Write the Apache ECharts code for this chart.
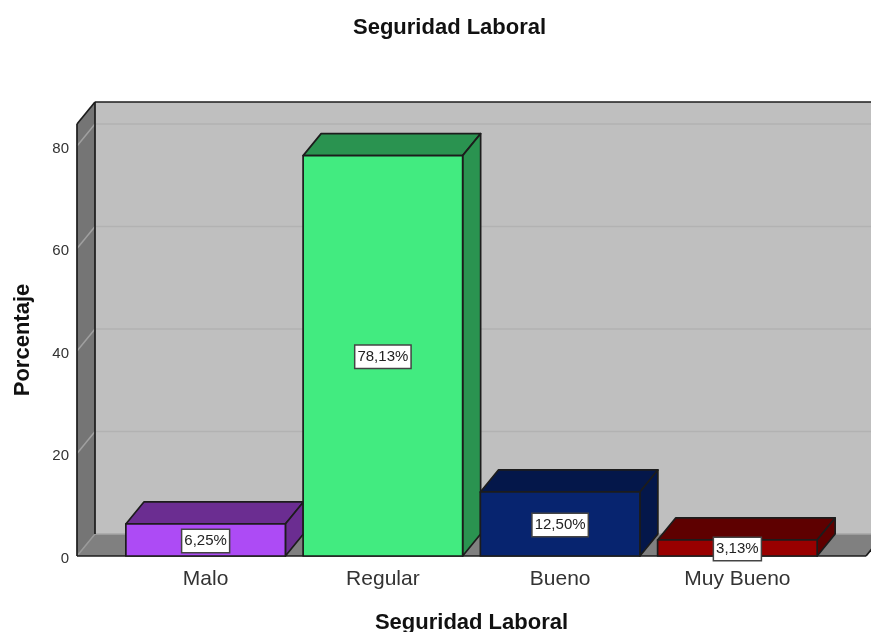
<!DOCTYPE html>
<html>
<head>
<meta charset="utf-8">
<title>Seguridad Laboral</title>
<script src="https://cdn.jsdelivr.net/npm/echarts@6/dist/echarts.min.js"></script>
<style>
  html, body { margin: 0; padding: 0; background: #fff; }
  #chart { width: 871px; height: 632px; }
</style>
</head>
<body>
<div id="chart"></div>
<script>
const categories = ["Malo", "Regular", "Bueno", "Muy Bueno"];
const percentages = [6.25, 78.13, 12.5, 3.13];
const frontColors = ["#ad4bf5", "#42eb80", "#07246f", "#990000"];
const sideColors = ["#6b2d91", "#2a9350", "#04174a", "#5e0000"];
const gridTicks = [20, 40, 60, 80];

const depthX = 18;
const depthY = 22;
const wallPad = 40;
const lineColor = "#1c1c1c";
const fontName = "'Liberation Sans', Arial, sans-serif";

function poly(points, fill, stroke, width) {
  return {
    type: "polygon",
    shape: { points: points },
    style: { fill: fill, stroke: stroke || lineColor, lineWidth: width === undefined ? 1.7 : width, lineJoin: "round" }
  };
}

function line(x1, y1, x2, y2, color, width) {
  return {
    type: "line",
    shape: { x1: x1, y1: y1, x2: x2, y2: y2 },
    style: { stroke: color, lineWidth: width || 1.5 }
  };
}

// back wall, left wall and floor
function renderWalls(params, api) {
  const rect = params.coordSys;
  const left = rect.x - wallPad;
  const right = rect.x + rect.width + wallPad;
  const top = rect.y;
  const bottom = rect.y + rect.height;
  const children = [
    poly([[left + depthX, top - depthY], [right + depthX, top - depthY], [right + depthX, bottom - depthY], [left + depthX, bottom - depthY]], "#bfbfbf", lineColor, 0),
    poly([[left, bottom], [right, bottom], [right + depthX, bottom - depthY], [left + depthX, bottom - depthY]], "#808080", "#808080", 0),
    poly([[left, top], [left + depthX, top - depthY], [left + depthX, bottom - depthY], [left, bottom]], "#757575", lineColor, 0)
  ];
  gridTicks.forEach(function (v) {
    const y = api.coord([0, v])[1];
    children.push(line(left + depthX, y - depthY, right + depthX, y - depthY, "#b2b2b2"));
    children.push(line(left, y, left + depthX, y - depthY, "#a0a0a0"));
  });
  children.push(line(left + depthX, bottom - depthY, right + depthX, bottom - depthY, "#a6a6a6"));
  children.push(line(left, bottom, left + depthX, bottom - depthY, "#9a9a9a"));
  children.push(line(left, top, left + depthX, top - depthY, lineColor, 1.7));
  children.push(line(left + depthX, top - depthY, right + depthX, top - depthY, lineColor, 1.7));
  children.push(line(left + depthX, top - depthY, left + depthX, bottom - depthY, lineColor, 1.7));
  children.push(line(left, top, left, bottom, lineColor, 1.7));
  children.push(line(left, bottom, right, bottom, lineColor, 1.7));
  children.push(line(right, bottom, right + depthX, bottom - depthY, lineColor, 1.7));
  return { type: "group", children: children };
}

function renderBar(params, api) {
  const i = params.dataIndex;
  const value = api.value(1);
  const base = api.coord([i, 0]);
  const tip = api.coord([i, value]);
  const half = api.size([1, 0])[0] * 0.45;
  const l = base[0] - half;
  const r = base[0] + half;
  const b = base[1];
  const t = tip[1];
  return {
    type: "group",
    children: [
      poly([[l, t], [l + depthX, t - depthY], [r + depthX, t - depthY], [r, t]], sideColors[i]),
      poly([[r, t], [r + depthX, t - depthY], [r + depthX, b - depthY], [r, b]], sideColors[i]),
      poly([[l, t], [r, t], [r, b], [l, b]], frontColors[i]),
      {
        type: "text",
        x: base[0],
        y: (b + t) / 2 + 1,
        z2: 10,
        style: {
          text: value.toFixed(2).replace(".", ",") + "%",
          align: "center",
          verticalAlign: "middle",
          font: "15px " + fontName,
          fill: "#222",
          backgroundColor: "#fff",
          borderColor: "#444",
          borderWidth: 1.5,
          padding: [4, 2, 3, 2]
        }
      }
    ]
  };
}

const myChart = echarts.init(document.getElementById("chart"), null, { renderer: "canvas" });
myChart.setOption({
  animation: false,
  title: {
    text: "Seguridad Laboral",
    left: 348,
    top: 12,
    textStyle: { fontFamily: fontName, fontWeight: "bold", fontSize: 22, color: "#111" }
  },
  grid: { left: 117, width: 709, top: 124, bottom: 76, outerBoundsMode: "none" },
  xAxis: {
    type: "category",
    data: categories,
    axisLine: { show: false },
    axisTick: { show: false },
    axisLabel: { margin: 13, fontFamily: fontName, fontSize: 21, color: "#333" },
    name: "Seguridad Laboral",
    nameLocation: "middle",
    nameGap: 56,
    nameTextStyle: { fontFamily: fontName, fontWeight: "bold", fontSize: 22, color: "#111" }
  },
  yAxis: {
    type: "value",
    min: 0,
    max: 84.3,
    interval: 20,
    axisLine: { show: false },
    axisTick: { show: false },
    splitLine: { show: false },
    axisLabel: {
      margin: 48,
      showMaxLabel: false,
      formatter: "{t|{value}}",
      rich: { t: { padding: [5, 0, 0, 0], fontFamily: fontName, fontSize: 15, color: "#333" } }
    },
    name: "Porcentaje",
    nameLocation: "middle",
    nameGap: 83,
    nameTextStyle: { fontFamily: fontName, fontWeight: "bold", fontSize: 22, color: "#111" }
  },
  series: [
    { type: "custom", renderItem: renderWalls, data: [[0, 0]], silent: true, z: 1 },
    { type: "custom", renderItem: renderBar, data: percentages.map(function (v, i) { return [i, v]; }), z: 2 }
  ]
});
window.addEventListener("resize", function () {
  myChart.resize();
});
</script>
</body>
</html>
